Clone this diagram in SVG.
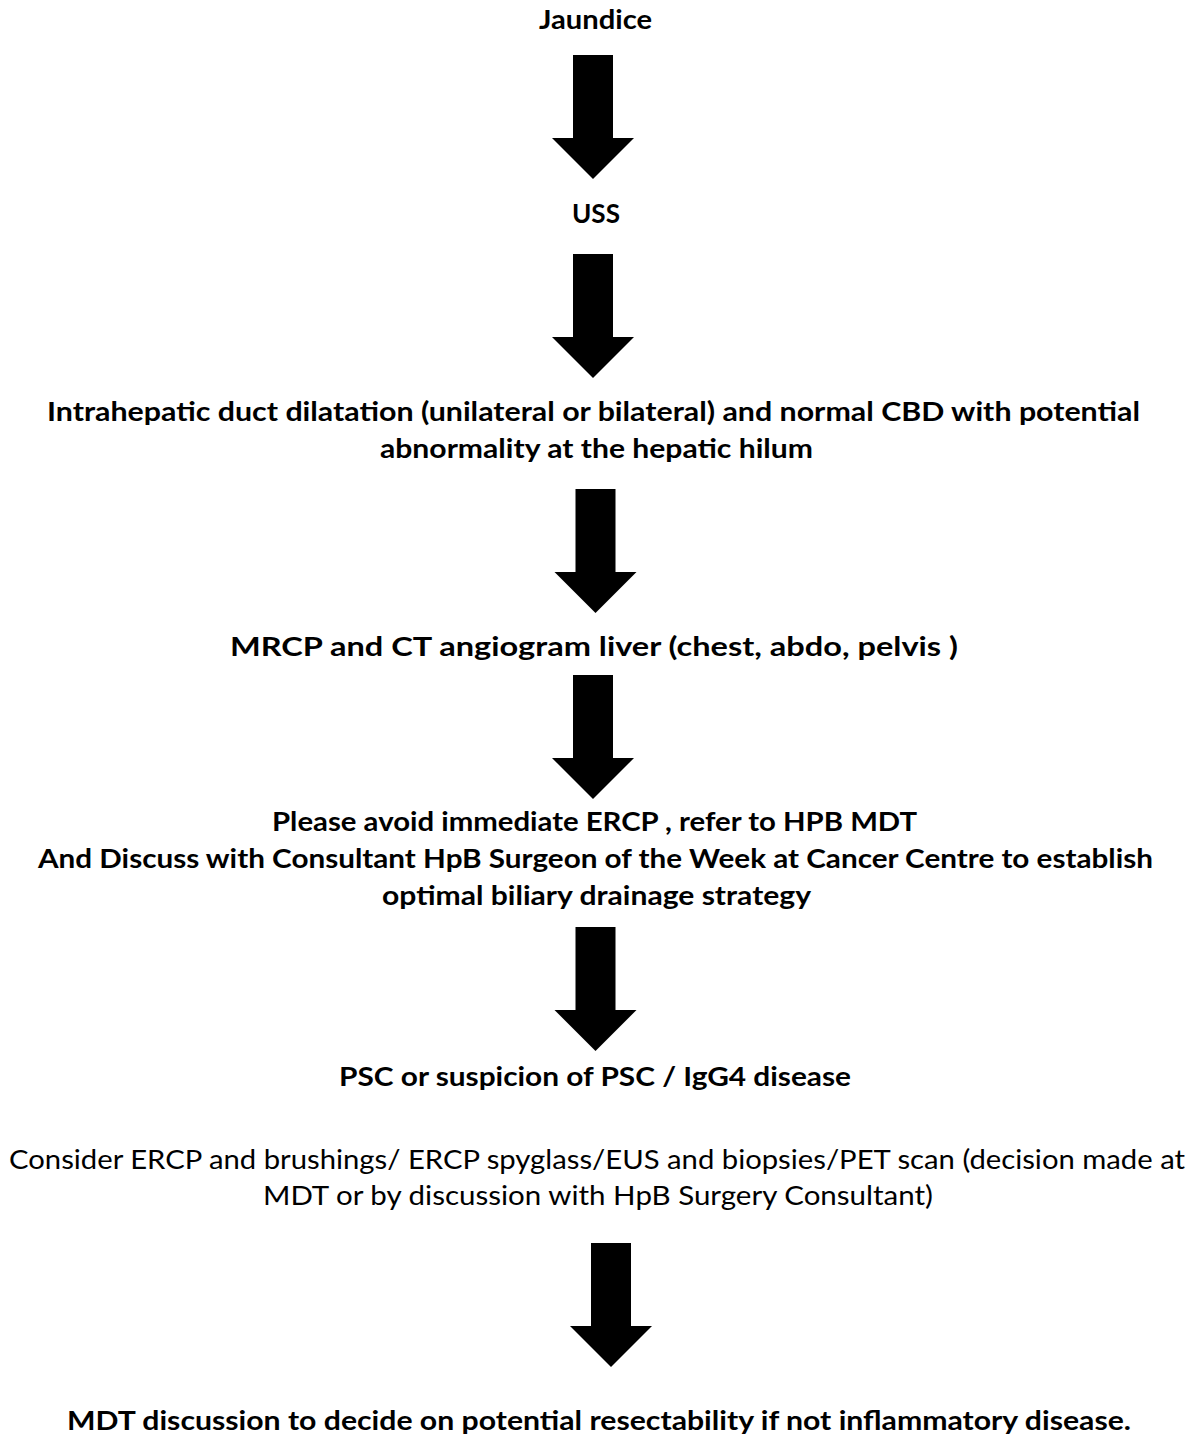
<svg xmlns="http://www.w3.org/2000/svg" xmlns:xlink="http://www.w3.org/1999/xlink" width="1194" height="1445" viewBox="0 0 1194 1445">
  <style>
    .t { font-family: Lato, "Open Sans", "Liberation Sans", sans-serif; font-size: 26.5px; fill: #000; text-anchor: middle; }
    .b { font-weight: bold; }
    .r { font-weight: normal; }
    .arrow { fill: #000; stroke: none; }
  </style>
  <defs>
    <!-- block arrow: origin at top centre of shaft -->
    <path id="downArrow" d="M-20,0 H20 V83 H41 L0,124 L-41,83 H-20 Z"/>
  </defs>
  <rect width="1194" height="1445" fill="#fff"/>

  <g id="node-jaundice">
    <text class="t b" x="595.5" y="29" textLength="113" lengthAdjust="spacingAndGlyphs">Jaundice</text>
  </g>
  <g id="node-uss">
    <text class="t b" x="596" y="223" textLength="48" lengthAdjust="spacingAndGlyphs">USS</text>
  </g>
  <g id="node-dilatation">
    <text class="t b" x="593.5" y="421" textLength="1093" lengthAdjust="spacingAndGlyphs">Intrahepatic duct dilatation (unilateral or bilateral) and normal CBD with potential</text>
    <text class="t b" x="596.5" y="458" textLength="433" lengthAdjust="spacingAndGlyphs">abnormality at the hepatic hilum</text>
  </g>
  <g id="node-mrcp">
    <text class="t b" x="594" y="656" textLength="728" lengthAdjust="spacingAndGlyphs">MRCP and CT angiogram liver (chest, abdo, pelvis )</text>
  </g>
  <g id="node-refer">
    <text class="t b" x="594.5" y="831" textLength="645" lengthAdjust="spacingAndGlyphs">Please avoid immediate ERCP , refer to HPB MDT</text>
    <text class="t b" x="595.5" y="868" textLength="1115" lengthAdjust="spacingAndGlyphs">And Discuss with Consultant HpB Surgeon of the Week at Cancer Centre to establish</text>
    <text class="t b" x="596.5" y="905" textLength="429" lengthAdjust="spacingAndGlyphs">optimal biliary drainage strategy</text>
  </g>
  <g id="node-psc">
    <text class="t b" x="595" y="1086" textLength="512" lengthAdjust="spacingAndGlyphs">PSC or suspicion of PSC / IgG4 disease</text>
  </g>
  <g id="node-consider">
    <text class="t r" x="597" y="1169" textLength="1176" lengthAdjust="spacingAndGlyphs">Consider ERCP and brushings/ ERCP spyglass/EUS and biopsies/PET scan (decision made at</text>
    <text class="t r" x="598" y="1205" textLength="670" lengthAdjust="spacingAndGlyphs">MDT or by discussion with HpB Surgery Consultant)</text>
  </g>
  <g id="node-mdt">
    <text class="t b" x="599" y="1430" textLength="1064" lengthAdjust="spacingAndGlyphs">MDT discussion to decide on potential resectability if not inflammatory disease.</text>
  </g>

  <g id="connectors">
    <use xlink:href="#downArrow" class="arrow" transform="translate(593,55)"/>
    <use xlink:href="#downArrow" class="arrow" transform="translate(593,254)"/>
    <use xlink:href="#downArrow" class="arrow" transform="translate(595.5,489)"/>
    <use xlink:href="#downArrow" class="arrow" transform="translate(593,675)"/>
    <use xlink:href="#downArrow" class="arrow" transform="translate(595.5,927)"/>
    <use xlink:href="#downArrow" class="arrow" transform="translate(611,1243)"/>
  </g>
</svg>
